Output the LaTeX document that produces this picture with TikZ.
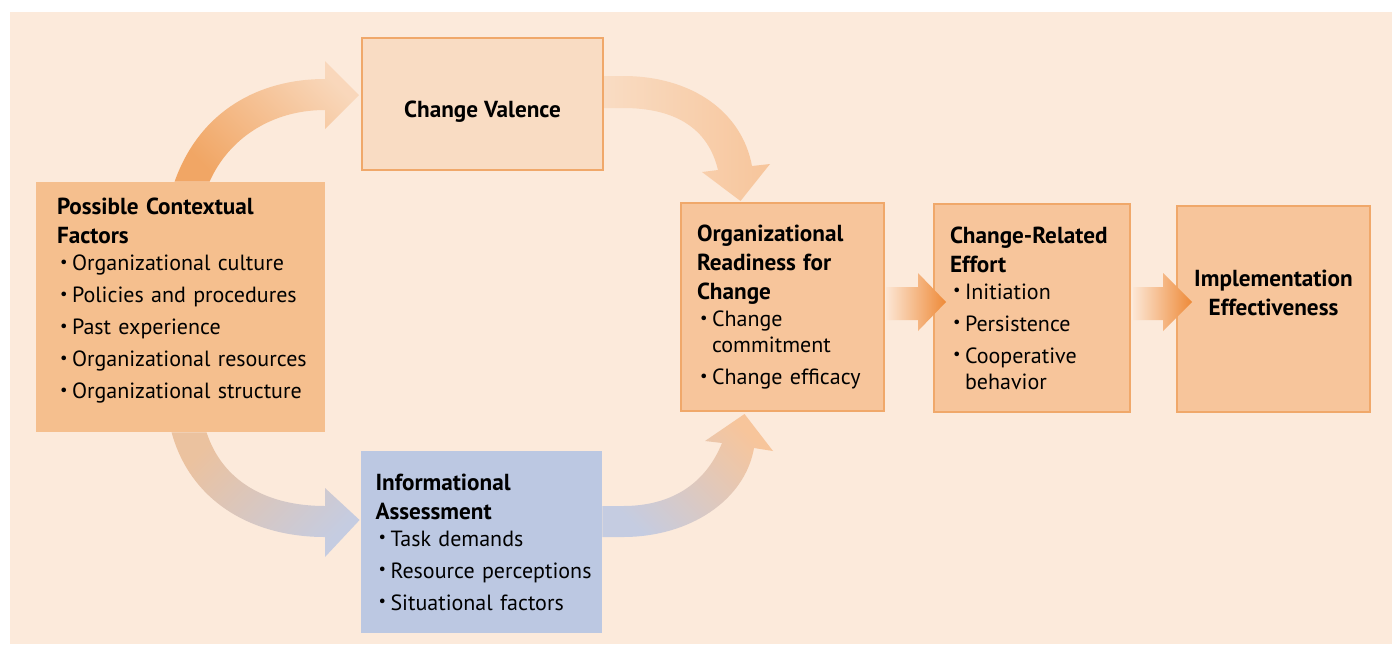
\documentclass[tikz,border=0pt]{standalone}
\usepackage{fontspec}
\setmainfont{PT Sans}
\usetikzlibrary{calc}
\pgfdeclarelayer{paper}
\pgfdeclarelayer{arrows}
\pgfsetlayers{paper,arrows,main}
\definecolor{bgpeach}{HTML}{FCEADB}
\definecolor{ctxfill}{HTML}{F5BF8E}
\definecolor{cvfill}{HTML}{F9DCC3}
\definecolor{boxfill}{HTML}{F7C59B}
\definecolor{boxedge}{HTML}{F0A86A}
\definecolor{infofill}{HTML}{BCC8E2}
\definecolor{arrowdark}{HTML}{EE8A38}
\definecolor{arrowpale}{HTML}{FCE6D4}
\definecolor{arrowblue}{HTML}{C5CCE1}
\newcommand\boxfont{\fontsize{11}{13}\selectfont\hyphenpenalty=10000\relax\exhyphenpenalty=10000\relax}
\newcommand\ttl[1]{{\fontsize{11.6}{13}\selectfont\bfseries #1}}
\newcommand\bitem[2][3pt]{\par\vspace{#1}\hangindent=7.5pt\hangafter=1\noindent
  \makebox[7.5pt][l]{\hspace{1.5pt}\raisebox{0.3ex}{\scalebox{0.75}{\textbullet}}}#2\par}

\begin{document}
\begin{tikzpicture}[x=0.5pt,y=-0.5pt,
  every node/.style={font=\boxfont, inner sep=0pt},
  plainbox/.style={fill=ctxfill, align=left},
  edgebox/.style={fill=boxfill, draw=boxedge, line width=1pt, align=left},
  infobox/.style={fill=infofill, align=left}]
\useasboundingbox (0,0) rectangle (1392,644);
\begin{pgfonlayer}{paper}
\fill [white] (0,0) rectangle (1392,644);
\fill [bgpeach] (10,12) rectangle (1392,644);
\end{pgfonlayer}
\node [plainbox, minimum width=144.5pt, minimum height=125pt, text width=123.5pt] (ctx) at (180.5,307) {%
  \ttl{Possible~Contextual}\\[1.5pt]\ttl{Factors}
  \bitem[0.5pt]{Organizational~culture}
  \bitem{Policies~and~procedures}
  \bitem{Past~experience}
  \bitem{Organizational~resources}
  \bitem{Organizational~structure\rule[-8.5pt]{0pt}{0pt}}};
\node [edgebox, fill=cvfill, minimum width=120.5pt, minimum height=66pt, align=center] (cv) at (482.5,104)
  {\raisebox{-6.5pt}[0pt][0pt]{\ttl{Change Valence}}};
\node [edgebox, minimum width=101.5pt, minimum height=104pt, text width=85.5pt] (ready) at (782.5,307) {%
  \ttl{Organizational}\\[1.5pt]\ttl{Readiness~for}\\[1.5pt]\ttl{Change}
  \bitem[0.5pt]{Change\newline commitment}
  \bitem{Change~efficacy}};
\node [edgebox, minimum width=98pt, minimum height=104pt, text width=82pt] (effort) at (1032,308) {%
  \ttl{\mbox{Change-Related}}\\[1.5pt]\ttl{Effort}
  \bitem[0.5pt]{Initiation}
  \bitem{Persistence}
  \bitem{Cooperative\newline behavior}};
\node [edgebox, minimum width=96.5pt, minimum height=103pt, align=center] (impl) at (1273.5,309) {%
  \ttl{Implementation}\\[1.5pt]\ttl{Effectiveness}\\[3pt]};
\node [infobox, minimum width=120.5pt, minimum height=91pt, text width=106pt] (info) at (481.5,542) {%
  \ttl{Informational}\\[1.5pt]\ttl{Assessment}
  \bitem[0.5pt]{Task~demands}
  \bitem{Resource~perceptions}
  \bitem{Situational~factors}};
\begin{pgfonlayer}{arrows}
\shade [bottom color=boxedge!95!orange, top color=cvfill!80!boxfill, shading angle=-45]
  ($(ctx.north west)+(139,0)$) .. controls (200,110) and (260,79) .. (325,79) -- (325,61)
  -- ($(cv.west)+(-2,-9)$) -- (325,129) -- (325,110)
  .. controls (270,110) and (228,140) .. ($(ctx.north west)+(174,0)$) -- cycle;
\shade [left color=cvfill, right color=boxfill]
  ($(cv.east)+(0,-28)$) -- (623,76) .. controls (692,76) and (742,112) .. (752,166) -- (770,164)
  -- ($(ready.north)+(-42,-1)$) -- (702,172) -- (718,170)
  .. controls (708,128) and (675,108) .. (623,108) -- ($(cv.east)+(0,4)$) -- cycle;
\shade [top color=ctxfill!80!arrowblue, bottom color=arrowblue, shading angle=45]
  ($(ctx.south west)+(136,0)$) .. controls (190,500) and (250,537) .. (325,537) -- (325,557)
  -- ($(info.west)+(-1,-22)$) -- (325,488) -- (325,506)
  .. controls (265,506) and (222,480) .. ($(ctx.south west)+(171,0)$) -- cycle;
\shade [top color=boxfill, bottom color=arrowblue, shading angle=-45]
  ($(info.east)+(0,-5)$) -- (623,537) .. controls (690,537) and (745,500) .. (754,448) -- (773,451)
  -- ($(ready.south)+(-38,2)$) -- (705,441) -- (722,443)
  .. controls (705,485) and (670,506) .. (623,506) -- ($(info.east)+(0,-36)$) -- cycle;
\end{pgfonlayer}
\shade [left color=arrowpale, right color=arrowdark]
  ($(ready.east)+(1,-20)$) -- (918,287) -- (918,273) -- ($(effort.west)+(13,-6)$)
  -- (918,331) -- (918,320) -- ($(ready.east)+(1,13)$) -- cycle;
\shade [left color=arrowpale, right color=arrowdark]
  ($(effort.east)+(2,-21)$) -- (1163,287) -- (1163,273) -- ($(impl.west)+(16,-7)$)
  -- (1163,331) -- (1163,320) -- ($(effort.east)+(2,12)$) -- cycle;
\end{tikzpicture}
\end{document}
